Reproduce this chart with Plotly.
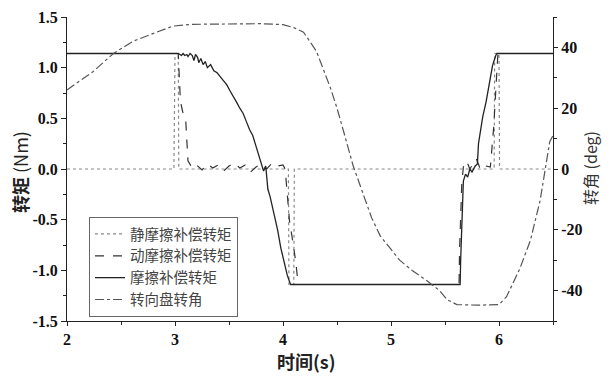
import plotly.graph_objects as go

# ---- data ----
t_static = [2.0, 2.99, 3.0, 3.03, 3.035, 4.05, 4.055, 4.10, 4.105, 5.955, 5.96, 6.0, 6.005, 6.5]
v_static = [0.0, 0.0, 1.14, 1.14, 0.0, 0.0, -1.14, -1.14, 0.0, 0.0, 1.14, 1.14, 0.0, 0.0]

t_dynamic = [2.0, 3.03, 3.05, 3.07, 3.10, 3.12, 3.16, 3.20, 3.25, 3.30, 3.35, 3.40, 3.45, 3.50,
             3.55, 3.60, 3.65, 3.70, 3.75, 3.80, 3.85, 3.90, 3.95, 4.00, 4.02, 4.04, 4.06, 4.09,
             4.12, 4.14, 5.63, 5.635, 5.645, 5.655, 5.67, 5.70, 5.73, 5.76, 5.79, 5.82, 5.85,
             5.88, 5.92, 5.95, 5.97, 5.99, 6.5]
v_dynamic = [1.14, 1.14, 0.67, 0.57, 0.47, 0.08, 0.01, 0.04, -0.01, 0.05, 0.01, 0.04, -0.02, 0.03,
             0.06, 0.01, 0.04, -0.03, 0.02, 0.05, 0.0, 0.06, 0.03, 0.04, 0.0, -0.22, -0.51, -0.71,
             -0.93, -1.14, -1.14, -0.8, -0.4, -0.15, 0.02, 0.08, 0.0, 0.05, 0.1, 0.02, 0.06,
             0.03, 0.02, 0.4, 0.8, 1.14, 1.14]

t_total = [2.0, 3.03, 3.06, 3.075, 3.09, 3.11, 3.12, 3.14, 3.16, 3.175, 3.19, 3.21, 3.22, 3.24,
           3.26, 3.28, 3.30, 3.33, 3.36, 3.39, 3.42, 3.45, 3.48, 3.51, 3.54, 3.57, 3.60, 3.63,
           3.66, 3.69, 3.72, 3.75, 3.78, 3.80, 3.82, 3.84, 3.86, 3.88, 3.91, 3.95, 3.98, 4.01,
           4.04, 4.07, 5.64, 5.645, 5.655, 5.665, 5.67, 5.69, 5.71, 5.73, 5.75, 5.78, 5.80,
           5.81, 5.83, 5.85, 5.88, 5.90, 5.92, 5.94, 5.97, 5.98, 6.5]
v_total = [1.14, 1.14, 1.12, 1.14, 1.12, 1.13, 1.11, 1.14, 1.12, 1.07, 1.13, 1.10, 1.05, 1.09,
           1.03, 1.06, 1.00, 1.03, 0.97, 0.95, 0.91, 0.87, 0.83, 0.77, 0.72, 0.66, 0.60, 0.55,
           0.47, 0.39, 0.33, 0.23, 0.12, 0.04, -0.02, 0.03, -0.20, -0.27, -0.40, -0.60, -0.78,
           -0.93, -1.05, -1.14, -1.14, -0.90, -0.60, -0.30, -0.12, -0.05, -0.08, 0.0, -0.03,
           0.03, 0.05, 0.25, 0.38, 0.52, 0.66, 0.78, 0.90, 1.02, 1.12, 1.14, 1.14]

t_angle = [2.0, 2.12, 2.24, 2.43, 2.61, 2.83, 2.98, 3.17, 3.5, 3.8, 4.0, 4.1, 4.19, 4.31, 4.44,
           4.5, 4.56, 4.62, 4.65, 4.75, 4.82, 4.9, 5.08, 5.2, 5.33, 5.45, 5.52, 5.61, 5.8, 6.0,
           6.07, 6.19, 6.29, 6.38, 6.41, 6.47, 6.5]
v_angle = [26, 29, 32, 38, 42, 45, 47, 47.6, 47.8, 47.8, 47.5, 46.5, 45, 38.7, 26.6,
           20, 12.5, 4.9, 1.0, -9, -16, -22, -30, -33.5, -36.7, -40, -43, -44.6, -44.8, -44.6,
           -42, -33, -23.6, -10.5, -4, 9, 11]

names = ["静摩擦补偿转矩", "动摩擦补偿转矩", "摩擦补偿转矩", "转向盘转角"]

left_ticks = [-1.5, -1.0, -0.5, 0.0, 0.5, 1.0, 1.5]
left_text = ["-1.5", "-1.0", "-0.5", "0.0", "0.5", "1.0", "1.5"]
right_ticks = [-40, -20, 0, 20, 40]
right_text = ["-40", "-20", "0", "20", "40"]
x_ticks = [2, 3, 4, 5, 6]

fig = go.Figure()
fig.add_trace(go.Scatter(x=t_static, y=v_static, name=names[0], mode="lines",
                         line=dict(color="#8a8a8a", width=1.2, dash="dot")))
fig.add_trace(go.Scatter(x=t_dynamic, y=v_dynamic, name=names[1], mode="lines",
                         line=dict(color="#333333", width=1.2, dash="dash")))
fig.add_trace(go.Scatter(x=t_total, y=v_total, name=names[2], mode="lines",
                         line=dict(color="#222222", width=1.3)))
fig.add_trace(go.Scatter(x=t_angle, y=v_angle, name=names[3], mode="lines", yaxis="y2",
                         line=dict(color="#555555", width=1.2, dash="dashdot")))

tickfont = dict(family="Times New Roman, Liberation Serif, DejaVu Serif, serif", size=16,
                color="#111", weight="bold")
pl, pr, pt, pb = 67, 553, 17, 321


def px2paper(px, py):
    return (px - pl) / (pr - pl), (pb - py) / (pb - pt)


ax_l = px2paper(20, 172)
ax_r = px2paper(590, 168)
ax_x = px2paper(306, 361)

fig.update_layout(
    width=616, height=377,
    margin=dict(l=pl, r=616 - pr, t=pt, b=377 - pb, autoexpand=False),
    paper_bgcolor="white", plot_bgcolor="white",
    showlegend=True,
    legend=dict(x=(89 - pl) / (pr - pl), y=(pb - 217) / (pb - pt),
                xanchor="left", yanchor="top",
                bgcolor="white", bordercolor="#666", borderwidth=1,
                font=dict(family="Noto Sans CJK SC", size=14.5, color="#444"),
                tracegroupgap=0),
    xaxis=dict(range=[2, 6.5], tickvals=x_ticks, ticks="outside", ticklen=4,
               tickcolor="#222", showline=True, linecolor="#222", linewidth=1,
               showgrid=False, zeroline=False, tickfont=tickfont, automargin=False,
               minor=dict(ticks="outside", dtick=0.5, ticklen=3, tickcolor="#222")),
    yaxis=dict(range=[-1.5, 1.5], tickvals=left_ticks, ticktext=left_text,
               ticks="outside", ticklen=5, tickcolor="#222", showline=True,
               linecolor="#222", linewidth=1, showgrid=False, zeroline=False,
               tickfont=tickfont, automargin=False,
               minor=dict(ticks="outside", dtick=0.25, ticklen=3, tickcolor="#222")),
    yaxis2=dict(range=[-50, 50], overlaying="y", side="right", anchor="x",
                tickvals=right_ticks, ticktext=right_text, ticks="outside",
                ticklen=4, tickcolor="#222", showline=True, linecolor="#222",
                linewidth=1, showgrid=False, zeroline=False, tickfont=tickfont,
                automargin=False,
                minor=dict(ticks="outside", dtick=10, ticklen=3, tickcolor="#222")),
    annotations=[
        dict(text="<b>转矩</b> (Nm)", x=ax_l[0], y=ax_l[1], xref="paper", yref="paper",
             showarrow=False, textangle=-90, xanchor="center", yanchor="middle",
             font=dict(family="Noto Sans CJK SC", size=18, color="#222")),
        dict(text="转角 (deg)", x=ax_r[0], y=ax_r[1], xref="paper", yref="paper",
             showarrow=False, textangle=-90, xanchor="center", yanchor="middle",
             font=dict(family="Noto Sans CJK SC", size=16, color="#333")),
        dict(text="<b>时间(s)</b>", x=ax_x[0], y=ax_x[1], xref="paper", yref="paper",
             showarrow=False, xanchor="center", yanchor="middle",
             font=dict(family="Noto Sans CJK SC", size=18, color="#222")),
    ],
)

fig.write_html("out.html", config={"displayModeBar": False},
               post_script="document.body.style.margin='0';document.body.style.padding='0';")
